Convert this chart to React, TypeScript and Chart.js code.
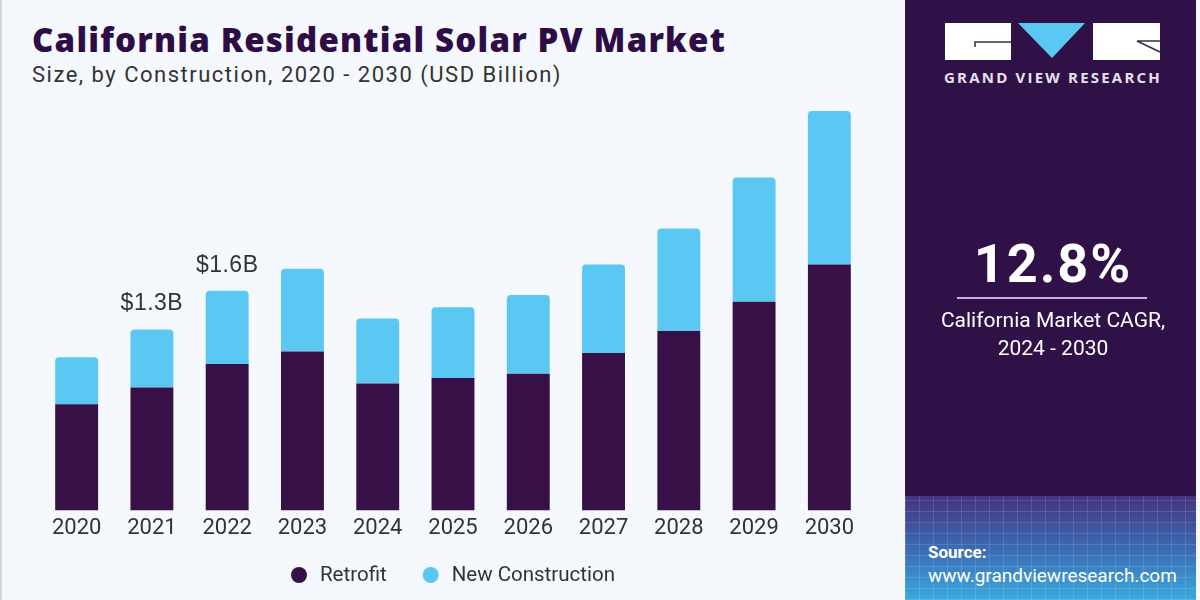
import React, { useEffect, useRef } from "react";
import { Chart, registerables } from "chart.js";

Chart.register(...registerables);

const years = ["2020", "2021", "2022", "2023", "2024", "2025", "2026", "2027", "2028", "2029", "2030"];
const retrofit = [0.77, 0.89, 1.06, 1.15, 0.92, 0.96, 0.99, 1.14, 1.30, 1.51, 1.78];
const newConstruction = [0.34, 0.42, 0.53, 0.60, 0.47, 0.51, 0.57, 0.64, 0.74, 0.90, 1.11];
const totalLabels = ["", "$1.3B", "$1.6B", "", "", "", "", "", "", "", ""];
const seriesNames = ["Retrofit", "New Construction"];

const DARK = "#371047";
const LIGHT = "#5bc8f4";
const BG = "#f5f8fc";
const PANEL = "#2f1148";

const valueLabelPlugin = {
  id: "valueLabels",
  afterDatasetsDraw(chart: any) {
    const ctx = chart.ctx;
    const meta = chart.getDatasetMeta(1);
    ctx.save();
    ctx.font = "23px 'Liberation Sans', Arial, sans-serif";
    (ctx as any).letterSpacing = "0.5px";
    ctx.fillStyle = "#333333";
    ctx.textAlign = "center";
    ctx.textBaseline = "alphabetic";
    meta.data.forEach((bar: any, i: number) => {
      const t = totalLabels[i];
      if (!t) return;
      ctx.fillText(t, bar.x, bar.y - 19);
    });
    ctx.restore();
  },
};

const legendPlugin = {
  id: "customLegend",
  afterDraw(chart: any) {
    const ctx = chart.ctx;
    const area = chart.chartArea;
    ctx.save();
    ctx.font = "20.5px Roboto, sans-serif";
    ctx.textBaseline = "middle";
    ctx.textAlign = "left";
    const dot = 16;
    const gapText = 13;
    const gapItem = 36;
    const items = chart.data.datasets.map((ds: any) => ({
      text: ds.label,
      color: ds.backgroundColor,
      w: ctx.measureText(ds.label).width,
    }));
    let total = 0;
    items.forEach((it: any, i: number) => {
      total += dot + gapText + it.w + (i < items.length - 1 ? gapItem : 0);
    });
    let x = (area.left + area.right) / 2 - total / 2;
    const y = 575;
    items.forEach((it: any) => {
      ctx.fillStyle = it.color;
      ctx.beginPath();
      ctx.arc(x + dot / 2, y, dot / 2, 0, Math.PI * 2);
      ctx.fill();
      ctx.fillStyle = "#333333";
      ctx.fillText(it.text, x + dot + gapText, y + 1);
      x += dot + gapText + it.w + gapItem;
    });
    ctx.restore();
  },
};

function BarChart() {
  const ref = useRef<HTMLCanvasElement | null>(null);
  useEffect(() => {
    if (!ref.current) return;
    const chart = new Chart(ref.current, {
      type: "bar",
      data: {
        labels: years,
        datasets: [
          {
            label: seriesNames[0],
            data: retrofit,
            backgroundColor: DARK,
            borderWidth: 0,
            barPercentage: 0.57,
            categoryPercentage: 1,
          },
          {
            label: seriesNames[1],
            data: newConstruction,
            backgroundColor: LIGHT,
            borderWidth: 0,
            borderRadius: { topLeft: 4, topRight: 4, bottomLeft: 0, bottomRight: 0 },
            borderSkipped: false,
            barPercentage: 0.57,
            categoryPercentage: 1,
          },
        ],
      },
      options: {
        animation: false,
        responsive: false,
        maintainAspectRatio: false,
        layout: { padding: { left: 39, right: 39, top: 100, bottom: 61 } },
        scales: {
          x: {
            stacked: true,
            grid: { display: false },
            border: { display: false },
            ticks: {
              color: "#333333",
              padding: -3,
              font: { family: "Roboto", size: 22 },
            },
          },
          y: {
            stacked: true,
            display: false,
            min: 0,
            max: 2.97,
          },
        },
        plugins: {
          legend: { display: false },
          tooltip: { enabled: false },
        },
      },
      plugins: [valueLabelPlugin, legendPlugin],
    });
    return () => chart.destroy();
  }, []);
  return (
    <canvas
      ref={ref}
      width={906}
      height={600}
      style={{ position: "absolute", left: 0, top: 0, width: 906, height: 600 }}
    />
  );
}

export default function App() {
  useEffect(() => {
    document.body.style.margin = "0";
  }, []);
  const gridLines =
    "repeating-linear-gradient(90deg, rgba(255,255,255,0.12) 0 1px, transparent 1px 14px), repeating-linear-gradient(0deg, rgba(255,255,255,0.12) 0 1px, transparent 1px 11px)";
  return (
    <div
      style={{
        position: "fixed",
        left: 0,
        top: 0,
        width: 1200,
        height: 600,
        background: BG,
        overflow: "hidden",
        fontFamily: "Roboto, sans-serif",
      }}
    >
      <div style={{ position: "absolute", left: 0, top: 0, width: 2, height: 600, background: "#d3d6db" }} />
      <div
        style={{
          position: "absolute",
          left: 32,
          top: 19,
          fontFamily: "'Open Sans'",
          fontWeight: 800,
          fontSize: 33,
          letterSpacing: 1.2,
          color: "#2e0d47",
          whiteSpace: "nowrap",
          lineHeight: "42px",
        }}
      >
        California Residential Solar PV Market
      </div>
      <div
        style={{
          position: "absolute",
          left: 32,
          top: 61,
          fontFamily: "Roboto",
          fontSize: 22,
          letterSpacing: 1.5,
          color: "#333333",
          whiteSpace: "nowrap",
          lineHeight: "28px",
        }}
      >
        Size, by Construction, 2020 - 2030 (USD Billion)
      </div>
      <BarChart />
      <div style={{ position: "absolute", left: 905, top: 0, width: 291, height: 600, background: PANEL }}>
        <svg width={291} height={70} style={{ position: "absolute", left: 0, top: 0 }}>
          <rect x={40} y={23} width={66} height={37} fill="#ffffff" />
          <polyline points="70,47 70,42 106,42" fill="none" stroke="#3a2a4a" strokeWidth={1.5} />
          <polygon points="113,23 180,23 147,58" fill={LIGHT} />
          <rect x={188} y={23} width={67} height={37} fill="#ffffff" />
          <polyline points="255,41 232,41 255,52" fill="none" stroke="#3a2a4a" strokeWidth={1.5} />
        </svg>
        <div
          style={{
            position: "absolute",
            left: 38,
            top: 67,
            width: 220,
            textAlign: "center",
            fontFamily: "'Open Sans'",
            fontWeight: 700,
            fontSize: 15,
            letterSpacing: 2.2,
            color: "#e6e0ee",
            whiteSpace: "nowrap",
          }}
        >
          GRAND VIEW RESEARCH
        </div>
        <div
          style={{
            position: "absolute",
            left: 0,
            top: 232,
            width: 296,
            textAlign: "center",
            fontFamily: "Roboto",
            fontWeight: 700,
            fontSize: 54,
            letterSpacing: 2,
            color: "#ffffff",
            lineHeight: "64px",
          }}
        >
          12.8%
        </div>
        <div style={{ position: "absolute", left: 52, top: 297, width: 190, height: 2, background: "#c6b0dc" }} />
        <div
          style={{
            position: "absolute",
            left: 0,
            top: 306,
            width: 296,
            textAlign: "center",
            fontFamily: "Roboto",
            fontSize: 21,
            color: "#ffffff",
            lineHeight: "28px",
          }}
        >
          California Market CAGR,
          <br />
          2024 - 2030
        </div>
        <div
          style={{
            position: "absolute",
            left: 0,
            top: 496,
            width: 291,
            height: 104,
            background: gridLines + ", linear-gradient(180deg, #45337f 0%, #3b6fb8 55%, #3aa9dd 100%)",
          }}
        />
        <div
          style={{
            position: "absolute",
            left: 23,
            top: 541,
            fontFamily: "Roboto",
            fontWeight: 700,
            fontSize: 17,
            color: "#ffffff",
            lineHeight: "22px",
          }}
        >
          Source:
        </div>
        <div
          style={{
            position: "absolute",
            left: 23,
            top: 564,
            fontFamily: "Roboto",
            fontSize: 19,
            color: "#ffffff",
            lineHeight: "24px",
            whiteSpace: "nowrap",
          }}
        >
          www.grandviewresearch.com
        </div>
      </div>
    </div>
  );
}
